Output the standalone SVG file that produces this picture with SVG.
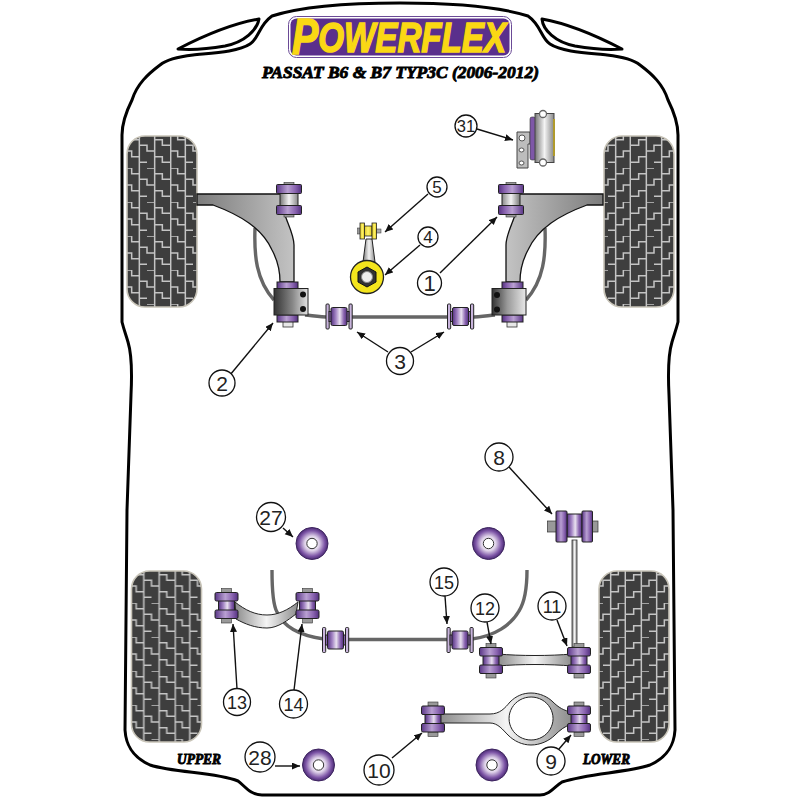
<svg xmlns="http://www.w3.org/2000/svg" width="800" height="800" viewBox="0 0 800 800">
<style>
.body{fill:none;stroke:#000;stroke-width:3;stroke-linejoin:round;stroke-linecap:round}
.ln{fill:none;stroke:#111;stroke-width:1.4;marker-end:url(#ah)}
.c{fill:#fff;stroke:#111;stroke-width:1.3}
.n{font-family:"Liberation Sans",Arial,sans-serif;font-size:21px;fill:#222;text-anchor:middle}
.s{stroke:#222;stroke-width:1}
.bar{fill:none;stroke:#666;stroke-width:3.4}
.ttl{font-family:"Liberation Serif",serif;font-weight:bold;font-style:italic;fill:#000;stroke:#000;stroke-width:.9}
</style>
<defs>
<marker id="ah" markerUnits="userSpaceOnUse" markerWidth="9" markerHeight="8" refX="8" refY="3.5" orient="auto"><path d="M0 0L8 3.5L0 7z" fill="#111"/></marker>
<linearGradient id="pu"><stop offset="0" stop-color="#53307f"/><stop offset=".3" stop-color="#a384c4"/><stop offset=".55" stop-color="#e9e1f0"/><stop offset=".8" stop-color="#8a64b0"/><stop offset="1" stop-color="#53307f"/></linearGradient>
<linearGradient id="pf"><stop offset="0" stop-color="#5a3687"/><stop offset=".45" stop-color="#b9a0d2"/><stop offset=".75" stop-color="#8a64b0"/><stop offset="1" stop-color="#53307f"/></linearGradient>
<linearGradient id="me"><stop offset="0" stop-color="#777"/><stop offset=".5" stop-color="#f4f4f4"/><stop offset="1" stop-color="#888"/></linearGradient>
<linearGradient id="ye"><stop offset="0" stop-color="#d8c020"/><stop offset=".5" stop-color="#fff46a"/><stop offset="1" stop-color="#e0c820"/></linearGradient>
<linearGradient id="armF" gradientUnits="userSpaceOnUse" x1="197" x2="295" y1="0" y2="0"><stop offset="0" stop-color="#7c7c7c"/><stop offset="1" stop-color="#c4c4c4"/></linearGradient>
<linearGradient id="brkL"><stop offset="0" stop-color="#333"/><stop offset=".55" stop-color="#888"/><stop offset="1" stop-color="#e4e4e4"/></linearGradient>
<linearGradient id="brkR"><stop offset="0" stop-color="#333"/><stop offset=".45" stop-color="#999"/><stop offset="1" stop-color="#e8e8e8"/></linearGradient>
<linearGradient id="armR"><stop offset="0" stop-color="#8c8c8c"/><stop offset=".5" stop-color="#f4f4f4"/><stop offset="1" stop-color="#8c8c8c"/></linearGradient>
<radialGradient id="rd"><stop offset="0" stop-color="#fff"/><stop offset=".45" stop-color="#e0d4ea"/><stop offset=".8" stop-color="#7d55a6"/><stop offset="1" stop-color="#4a2a73"/></radialGradient>
<pattern id="tread" patternUnits="userSpaceOnUse" width="46" height="34" x="-3" y="-2">
<rect width="46" height="34" fill="#3e3e3e"/>
<path d="M0 0h7.67v5.67h7.66v5.67h7.67v5.66h7.67v5.67h7.66v5.67h7.67M0 17h7.67v5.67h7.66v5.66h7.67M23 0h7.67v5.67h7.66v5.67h7.67M15.33 0v34M30.67 0v34M.7 0v34" fill="none" stroke="#c4c4c4" stroke-width="1.5"/>
</pattern>
<rect id="ty" width="70" height="171" rx="18" fill="url(#tread)" stroke="#c8c4b8" stroke-width="1.6"/>
<g id="bolt"><rect x="-5" y="-17" width="10" height="4" fill="#999" stroke="#333" stroke-width=".6"/><rect x="-5" y="13" width="10" height="4.500" fill="#999" stroke="#333" stroke-width=".6"/></g>
<g id="bv"><use href="#bolt"/><rect x="-8" y="-6" width="16" height="12" fill="url(#pu)" class="s"/><rect x="-11.500" y="-13" width="23" height="8.500" rx="1.500" fill="url(#pf)" class="s"/><rect x="-11.500" y="4.500" width="23" height="8.500" rx="1.500" fill="url(#pf)" class="s"/></g>
<g id="bg"><use href="#bolt"/><rect x="-9" y="-6" width="18" height="13" fill="url(#me)" class="s"/><rect x="-12.500" y="-15" width="25" height="9" rx="1" fill="url(#pf)" class="s"/><rect x="-12.500" y="6" width="25" height="9" rx="1" fill="url(#pf)" class="s"/></g>
<g id="bh"><rect x="-13" y="-12.500" width="3.200" height="25" rx="1" fill="#c8b4dc" stroke="#222"/><rect x="10" y="-12.500" width="3.200" height="25" rx="1" fill="#c8b4dc" stroke="#222"/><rect x="-10" y="-5" width="20" height="10" fill="#8a64b0" class="s"/><rect x="-8" y="-9" width="16" height="18" rx="1.500" fill="url(#pu)" class="s"/></g>
<g id="rb"><circle r="16" fill="url(#rd)" stroke="#3e2560"/><circle r="5.200" fill="#fff" stroke="#333"/></g>
<g id="farm">
<path d="M255 228C254 255 256 280 274 300" class="bar"/>
<path d="M197 194H285V215C287 222 294 235 294 245V282H280C280 272 279 263 272 250C262 228 240 215 213 205H197Z" fill="url(#armF)" stroke="#111" stroke-width="1.300"/>
<use href="#bg" x="289" y="199.500"/>
<rect x="283" y="321" width="10" height="6" fill="#e8e8e8" stroke="#333" stroke-width=".8"/>
<rect x="277" y="282" width="21" height="7" fill="url(#pf)" class="s"/>
<rect x="277" y="315" width="21" height="7" fill="url(#pf)" class="s"/>
</g>
</defs>
<rect width="800" height="800" fill="#fff"/>
<g id="car-outline">
<path class="body" d="M160 65C166 60 176 57 193 55C212 53 238 52 250 44C259 38 259 25 272 16C300 7 350 3 400 3C450 3 500 7 528 16C541 25 541 38 550 44C562 52 588 53 607 55C624 57 634 60 640 65C652 74 663 84 668 100C674 112 678 122 678 135L678 322C676 330 674 335 672 342C668 355 668 375 669 395L673 510L675 730C674 745 668 757 650 765C625 773 590 773 562 782C555 786 550 795 540 795H262C250 795 245 786 238 781C215 772 175 773 150 765C132 757 126 745 125 730L127 510L131 395C132 375 132 355 128 342C126 335 124 330 122 322L122 135C122 122 126 112 132 100C137 84 148 74 160 65Z"/>
<path class="body" d="M178 49C205 35 235 23 259 19C257 30 245 42 225 46C208 49 190 50 178 49Z"/>
<path class="body" d="M622 49C595 35 565 23 542 19C543 30 555 42 575 46C592 49 610 50 622 49Z"/>
</g>
<g id="logo">
<rect x="288.500" y="16.500" width="223" height="41" rx="8" fill="#fff" stroke="#6a4a96" stroke-width="1"/>
<rect x="290.500" y="18.500" width="219" height="37" rx="6" fill="#5a2f8c"/>
<text x="292" y="54" font-family="'Liberation Sans',sans-serif" font-weight="bold" font-style="italic" fill="#fad814" stroke="#fad814" stroke-width="1.500" font-size="42" textLength="214" lengthAdjust="spacingAndGlyphs"><tspan font-size="50">P</tspan><tspan dy="-2">OWERFLEX</tspan></text>
</g>
<text id="title" class="ttl" x="262" y="78" font-size="17" textLength="277" lengthAdjust="spacingAndGlyphs">PASSAT B6 &amp; B7 TYP3C (2006-2012)</text>
<text id="upper" class="ttl" x="177" y="764" font-size="14" textLength="44" lengthAdjust="spacingAndGlyphs">UPPER</text>
<text id="lower" class="ttl" x="583" y="764" font-size="14" textLength="47" lengthAdjust="spacingAndGlyphs">LOWER</text>
<g id="tyres">
<use href="#ty" x="127" y="136"/>
<use href="#ty" transform="matrix(-1 0 0 1 674 136)"/>
<use href="#ty" x="131.500" y="571"/>
<use href="#ty" transform="matrix(-1 0 0 1 669 571)"/>
</g>
<g id="front-suspension">
<use href="#farm"/>
<g transform="matrix(-1 0 0 1 800 0)"><use href="#farm"/></g>
<path class="bar" d="M305 315C315 316 320 317 330 317H470C480 317 485 316 495 315"/>
<g id="bracket-l"><rect x="274" y="288.500" width="34" height="26.500" fill="url(#brkL)" stroke="#222"/><circle cx="303" cy="294.500" r="3" fill="#111"/><circle cx="303" cy="309" r="3" fill="#111"/></g>
<g id="bracket-r"><rect x="492" y="288.500" width="34" height="26.500" fill="url(#brkR)" stroke="#222"/><circle cx="497" cy="295" r="3" fill="#111"/><circle cx="497" cy="309.500" r="3" fill="#111"/></g>
<use href="#bh" x="339" y="316.500"/>
<use href="#bh" x="460.500" y="316.500"/>
</g>
<g id="part-4-5">
<path d="M366 239L363 262H375L372 239Z" fill="url(#me)" stroke="#222"/>
<rect x="357.500" y="228" width="3" height="6" fill="#999" stroke="#333" stroke-width=".5"/>
<rect x="376" y="229" width="5" height="4" fill="#aaa" stroke="#333" stroke-width=".5"/>
<rect x="364" y="226" width="8" height="10" fill="url(#ye)" stroke="#222" stroke-width=".8"/>
<rect x="360" y="223" width="4.500" height="16" fill="url(#ye)" stroke="#222" stroke-width=".8"/>
<rect x="372" y="223" width="4.500" height="16" fill="url(#ye)" stroke="#222" stroke-width=".8"/>
<circle cx="367" cy="277" r="16.500" fill="#f4e51d" stroke="#222" stroke-width="1.300"/>
<path d="M367 267L376 272V282L367 287L358 282V272Z" fill="#333" stroke="#111"/>
<circle cx="367" cy="277" r="5.500" fill="#eee" stroke="#888"/>
</g>
<g id="part-31">
<path d="M517 132H530V144H528V168H517Z" fill="#bdbdbd" stroke="#444"/>
<circle cx="522" cy="138" r="3" fill="#fff" stroke="#555"/><ellipse cx="521.500" cy="150" rx="2.500" ry="2" fill="#fff" stroke="#555"/><ellipse cx="521.500" cy="163" rx="2.500" ry="2" fill="#fff" stroke="#555"/>
<rect x="530" y="117" width="5.500" height="43" rx="2" fill="#7e57a8" stroke="#333" stroke-width=".6"/>
<rect x="535" y="113.500" width="19" height="49" fill="url(#me)" stroke="#444"/>
<rect x="553" y="119" width="2" height="37" fill="#b09a2c"/>
<circle cx="543" cy="114" r="3.500" fill="#fff" stroke="#666" stroke-width="1.300"/><circle cx="543" cy="162.500" r="3.500" fill="#fff" stroke="#666" stroke-width="1.300"/>
</g>
<g id="rear-bar">
<path class="bar" d="M272 570C272 590 273 605 277 612C284 628 302 636 324 639H340M340 639.500H460M472 639C495 636 511 625 519 611C526 600 527 585 527 570"/>
<use href="#bh" x="335.500" y="640"/>
<use href="#bh" x="460" y="640"/>
</g>
<g id="upper-arm">
<path d="M235 602C245 610 255 615 267 615C278 615 288 610 298 602L296 614C288 620 278 628 267 628C255 628 245 624 236 619Z" fill="url(#armR)" stroke="#222"/>
<use href="#bv" x="226.500" y="605.500"/>
<use href="#bv" x="307.500" y="605.500"/>
</g>
<g id="link-8">
<rect x="572" y="540" width="5" height="107" fill="url(#me)" stroke="#333" stroke-width=".8"/>
<rect x="547.500" y="521" width="9" height="11" fill="#999" stroke="#333" stroke-width=".7"/>
<rect x="592" y="521" width="6" height="11" fill="#999" stroke="#333" stroke-width=".7"/>
<rect x="567" y="514" width="15" height="23" fill="url(#pu)" class="s"/>
<rect x="556" y="511" width="11" height="31" rx="1" fill="url(#pf)" class="s"/>
<rect x="582" y="511" width="10.500" height="31" rx="1" fill="url(#pf)" class="s"/>
</g>
<g id="arm-11-12">
<path d="M498 654C520 656 550 656 572 654V666C550 664 520 664 498 666Z" fill="url(#armR)" stroke="#222"/>
<use href="#bv" x="491" y="660.500"/>
<use href="#bv" x="579" y="660.500"/>
</g>
<g id="arm-9-10">
<path fill-rule="evenodd" d="M440 714H490C500 714 505 708 510 702C516 696 523 693 531 693C540 693 548 697 553 702C558 707 564 711 572 712V724C565 726 560 730 555 735C549 741 540 745 531 745C522 745 514 741 508 735C503 730 498 723 490 723H440ZM531 697A22 21.500 0 1 0 531.100 697Z" fill="url(#armR)" stroke="#222"/>
<use href="#bv" x="433" y="719"/>
<use href="#bv" x="579" y="719"/>
</g>
<g id="round-bushes">
<use href="#rb" x="312" y="543.500"/>
<use href="#rb" x="488.500" y="543.500"/>
<use href="#rb" x="318.500" y="765"/>
<use href="#rb" x="492" y="765"/>
</g>
<g id="connectors">
<path class="ln" d="M477 129L513 140"/>
<path class="ln" d="M428 194L385 232"/>
<path class="ln" d="M420 245L385 275"/>
<path class="ln" d="M440 273L497 217"/>
<path class="ln" d="M230 375L273 323"/>
<path class="ln" d="M388 352L357 332"/>
<path class="ln" d="M411 352L444 332"/>
<path class="ln" d="M509 467L552 514"/>
<path class="ln" d="M283 528L293 537"/>
<path class="ln" d="M275 766L300 766"/>
<path class="ln" d="M237 689L233 624"/>
<path class="ln" d="M294 690L302 624"/>
<path class="ln" d="M445 596L447 624"/>
<path class="ln" d="M487 622L491 644"/>
<path class="ln" d="M557 620L567 646"/>
<path class="ln" d="M392 758L422 733"/>
<path class="ln" d="M559 749L571 735"/>
</g>
<g id="n31"><circle class="c" cx="466" cy="126" r="11"/><text class="n" x="466" y="132" style="font-size:16.500px">31</text></g>
<g id="n5"><circle class="c" cx="437" cy="187" r="10"/><text class="n" x="437" y="193" style="font-size:17px">5</text></g>
<g id="n4"><circle class="c" cx="428" cy="237" r="10"/><text class="n" x="428" y="243" style="font-size:17px">4</text></g>
<g id="n1"><circle class="c" cx="429.500" cy="283" r="12"/><text class="n" x="429.500" y="291" style="font-size:22px">1</text></g>
<g id="n2"><circle class="c" cx="222" cy="383" r="13"/><text class="n" x="222" y="390.500">2</text></g>
<g id="n3"><circle class="c" cx="400" cy="361" r="13.500"/><text class="n" x="400" y="368.500">3</text></g>
<g id="n8"><circle class="c" cx="499" cy="457" r="14"/><text class="n" x="499" y="464.500">8</text></g>
<g id="n27"><circle class="c" cx="271" cy="517" r="14.500"/><text class="n" x="271" y="524.500">27</text></g>
<g id="n28"><circle class="c" cx="260" cy="757" r="15"/><text class="n" x="260" y="764.500">28</text></g>
<g id="n13"><circle class="c" cx="237" cy="702" r="13.500"/><text class="n" x="237" y="708.500" style="font-size:18px">13</text></g>
<g id="n14"><circle class="c" cx="293.500" cy="704" r="14"/><text class="n" x="293.500" y="710.500" style="font-size:18px">14</text></g>
<g id="n15"><circle class="c" cx="444" cy="582" r="14"/><text class="n" x="444" y="588.500" style="font-size:18px">15</text></g>
<g id="n12"><circle class="c" cx="485" cy="608" r="14"/><text class="n" x="485" y="614.500" style="font-size:18px">12</text></g>
<g id="n11"><circle class="c" cx="552" cy="606" r="14"/><text class="n" x="552" y="612.500" style="font-size:18px">11</text></g>
<g id="n10"><circle class="c" cx="379" cy="770" r="15"/><text class="n" x="379" y="777.500">10</text></g>
<g id="n9"><circle class="c" cx="551" cy="761" r="14"/><text class="n" x="551" y="768.500">9</text></g>
</svg>
